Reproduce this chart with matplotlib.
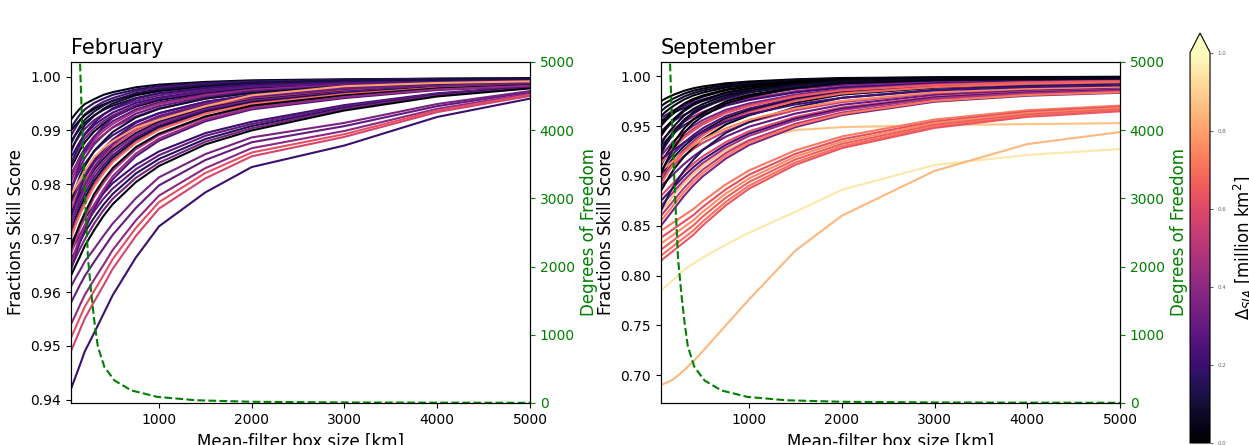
import numpy as np
import matplotlib.pyplot as plt
from matplotlib import cm, colors

box_km = [50, 100, 150, 200, 300, 400, 500, 750, 1000, 1500, 2000, 3000, 4000, 5000]

feb_fss = [
    [0.992, 0.9931, 0.9941, 0.9949, 0.9958, 0.9966, 0.9971, 0.998, 0.9985, 0.999, 0.9993, 0.9995, 0.9996, 0.9997],
    [0.9905, 0.9918, 0.993, 0.9939, 0.9951, 0.9959, 0.9966, 0.9976, 0.9982, 0.9988, 0.9991, 0.9994, 0.9996, 0.9997],
    [0.989, 0.9905, 0.9919, 0.993, 0.9943, 0.9953, 0.996, 0.9973, 0.9979, 0.9986, 0.999, 0.9993, 0.9995, 0.9996],
    [0.988, 0.9892, 0.9904, 0.9914, 0.9928, 0.9938, 0.9946, 0.996, 0.9969, 0.9978, 0.9984, 0.999, 0.9993, 0.9995],
    [0.9865, 0.9879, 0.9892, 0.9903, 0.9919, 0.993, 0.9939, 0.9955, 0.9965, 0.9976, 0.9982, 0.9989, 0.9992, 0.9994],
    [0.985, 0.9865, 0.988, 0.9892, 0.991, 0.9922, 0.9933, 0.9951, 0.9961, 0.9973, 0.9981, 0.9988, 0.9991, 0.9993],
    [0.984, 0.9856, 0.9872, 0.9885, 0.9904, 0.9917, 0.9928, 0.9947, 0.9958, 0.9971, 0.9979, 0.9987, 0.999, 0.9993],
    [0.983, 0.9847, 0.9864, 0.9878, 0.9898, 0.9912, 0.9924, 0.9944, 0.9956, 0.9969, 0.9978, 0.9986, 0.999, 0.9992],
    [0.9815, 0.9834, 0.9852, 0.9867, 0.9889, 0.9904, 0.9917, 0.9939, 0.9952, 0.9967, 0.9976, 0.9985, 0.9989, 0.9992],
    [0.9805, 0.9825, 0.9844, 0.986, 0.9883, 0.9899, 0.9912, 0.9936, 0.9949, 0.9965, 0.9975, 0.9984, 0.9988, 0.9991],
    [0.9795, 0.9811, 0.9826, 0.9838, 0.9861, 0.9877, 0.9891, 0.9916, 0.9932, 0.9953, 0.9965, 0.9977, 0.9986, 0.999],
    [0.9775, 0.9793, 0.9809, 0.9822, 0.9847, 0.9865, 0.9881, 0.9908, 0.9926, 0.9948, 0.9962, 0.9975, 0.9984, 0.9989],
    [0.9765, 0.9784, 0.98, 0.9814, 0.984, 0.9859, 0.9875, 0.9904, 0.9922, 0.9946, 0.996, 0.9974, 0.9984, 0.9988],
    [0.9755, 0.9775, 0.9792, 0.9806, 0.9833, 0.9853, 0.987, 0.99, 0.9919, 0.9944, 0.9958, 0.9973, 0.9983, 0.9988],
    [0.9745, 0.9765, 0.9783, 0.9799, 0.9827, 0.9847, 0.9865, 0.9895, 0.9916, 0.9941, 0.9957, 0.9972, 0.9982, 0.9987],
    [0.9735, 0.9756, 0.9775, 0.9791, 0.982, 0.9841, 0.986, 0.9891, 0.9913, 0.9939, 0.9955, 0.9971, 0.9981, 0.9987],
    [0.9725, 0.9747, 0.9766, 0.9783, 0.9813, 0.9835, 0.9854, 0.9887, 0.9909, 0.9937, 0.9953, 0.997, 0.9981, 0.9986],
    [0.9715, 0.9738, 0.9758, 0.9775, 0.9806, 0.9829, 0.9849, 0.9883, 0.9906, 0.9934, 0.9952, 0.9969, 0.998, 0.9986],
    [0.9705, 0.9729, 0.9749, 0.9767, 0.9799, 0.9823, 0.9844, 0.9879, 0.9903, 0.9932, 0.995, 0.9968, 0.9979, 0.9985],
    [0.969, 0.9706, 0.9721, 0.9737, 0.9761, 0.9783, 0.9802, 0.9836, 0.9861, 0.9895, 0.9916, 0.9947, 0.9969, 0.9981],
    [0.9675, 0.9691, 0.9708, 0.9724, 0.975, 0.9773, 0.9792, 0.9828, 0.9854, 0.989, 0.9912, 0.9945, 0.9968, 0.9981],
    [0.966, 0.9677, 0.9694, 0.9711, 0.9738, 0.9762, 0.9782, 0.982, 0.9847, 0.9884, 0.9908, 0.9942, 0.9966, 0.998],
    [0.9645, 0.9663, 0.9681, 0.9698, 0.9727, 0.9752, 0.9773, 0.9812, 0.984, 0.9879, 0.9904, 0.994, 0.9965, 0.9979],
    [0.963, 0.9649, 0.9667, 0.9686, 0.9715, 0.9741, 0.9763, 0.9804, 0.9834, 0.9874, 0.99, 0.9937, 0.9963, 0.9978],
    [0.967, 0.9696, 0.972, 0.9739, 0.9776, 0.9802, 0.9825, 0.9865, 0.9891, 0.9924, 0.9944, 0.9964, 0.9977, 0.9984],
    [0.986, 0.988, 0.9896, 0.991, 0.9927, 0.994, 0.995, 0.9965, 0.9973, 0.9982, 0.9987, 0.9992, 0.9994, 0.9995],
    [0.979, 0.9811, 0.9832, 0.9849, 0.9874, 0.9891, 0.9906, 0.9931, 0.9945, 0.9962, 0.9973, 0.9983, 0.9987, 0.9991],
    [0.974, 0.9766, 0.9792, 0.9813, 0.9844, 0.9865, 0.9883, 0.9914, 0.9932, 0.9953, 0.9966, 0.9979, 0.9984, 0.9988],
    [0.97, 0.9724, 0.9745, 0.9763, 0.9796, 0.982, 0.9841, 0.9877, 0.9901, 0.9931, 0.9949, 0.9967, 0.9979, 0.9985],
    [0.982, 0.9834, 0.9847, 0.9858, 0.9878, 0.9892, 0.9905, 0.9926, 0.9941, 0.9959, 0.9969, 0.998, 0.9987, 0.9991],
    [0.964, 0.9669, 0.9694, 0.9716, 0.9755, 0.9784, 0.9809, 0.9852, 0.9881, 0.9917, 0.9939, 0.996, 0.9975, 0.9982],
    [0.99, 0.991, 0.992, 0.9928, 0.994, 0.9948, 0.9955, 0.9967, 0.9974, 0.9982, 0.9987, 0.9992, 0.9994, 0.9996],
    [0.9835, 0.9858, 0.9878, 0.9894, 0.9914, 0.9929, 0.9941, 0.9959, 0.9969, 0.9979, 0.9985, 0.999, 0.9993, 0.9994],
    [0.977, 0.9793, 0.9816, 0.9834, 0.9862, 0.988, 0.9897, 0.9924, 0.994, 0.9959, 0.997, 0.9982, 0.9986, 0.999],
    [0.972, 0.9748, 0.9776, 0.9798, 0.9832, 0.9854, 0.9874, 0.9908, 0.9927, 0.995, 0.9964, 0.9978, 0.9983, 0.9987],
    [0.968, 0.9706, 0.9728, 0.9747, 0.9782, 0.9808, 0.983, 0.9869, 0.9894, 0.9926, 0.9946, 0.9965, 0.9978, 0.9984],
    [0.965, 0.9678, 0.9703, 0.9724, 0.9762, 0.979, 0.9815, 0.9857, 0.9885, 0.992, 0.9941, 0.9962, 0.9976, 0.9983],
    [0.9785, 0.9815, 0.9841, 0.9862, 0.9888, 0.9908, 0.9923, 0.9946, 0.9959, 0.9972, 0.9981, 0.9987, 0.999, 0.9993],
    [0.9875, 0.9893, 0.9908, 0.992, 0.9935, 0.9946, 0.9955, 0.9969, 0.9976, 0.9984, 0.9989, 0.9993, 0.9994, 0.9996],
    [0.958, 0.9597, 0.9614, 0.963, 0.9656, 0.9681, 0.9706, 0.9756, 0.9798, 0.9845, 0.9878, 0.9908, 0.9945, 0.9971],
    [0.961, 0.9626, 0.9641, 0.9657, 0.968, 0.9704, 0.9727, 0.9774, 0.9813, 0.9856, 0.9887, 0.9914, 0.9949, 0.9973],
    [0.954, 0.9558, 0.9577, 0.9595, 0.9623, 0.965, 0.9678, 0.9733, 0.9779, 0.983, 0.9867, 0.9899, 0.994, 0.9968],
    [0.9515, 0.9534, 0.9554, 0.9573, 0.9602, 0.9631, 0.9661, 0.9719, 0.9767, 0.9821, 0.9859, 0.9893, 0.9937, 0.9966],
    [0.949, 0.951, 0.9531, 0.9551, 0.9582, 0.9612, 0.9643, 0.9704, 0.9755, 0.9811, 0.9852, 0.9888, 0.9934, 0.9964],
    [0.942, 0.9443, 0.9466, 0.949, 0.9524, 0.9559, 0.9594, 0.9664, 0.9722, 0.9785, 0.9832, 0.9872, 0.9925, 0.9959],
    [0.978, 0.9795, 0.981, 0.9825, 0.985, 0.9867, 0.988, 0.9905, 0.992, 0.9945, 0.9965, 0.9982, 0.9988, 0.9991],
]
feb_delta = [0.05, 0.15, 0.25, 0.1, 0.3, 0.2, 0.35, 0.05, 0.28, 0.45,
             0.22, 0.18, 0.32, 0.6, 0.12, 0.38, 0.25, 0.08, 0.4, 0.2,
             0.3, 0.15, 0.35, 0.02, 0.5, 0.1, 0.3, 0.22, 0.7, 0.4,
             0.25, 0.0, 0.2, 0.1, 0.33, 0.05, 0.42, 0.28, 0.12, 0.3,
             0.35, 0.4, 0.62, 0.58, 0.2, 0.8]

sep_fss = [
    [0.975, 0.9778, 0.98, 0.982, 0.9855, 0.988, 0.9898, 0.993, 0.9948, 0.997, 0.9983, 0.999, 0.9993, 0.9995],
    [0.97, 0.9733, 0.976, 0.9784, 0.9826, 0.9856, 0.9877, 0.9916, 0.9937, 0.9964, 0.9979, 0.9988, 0.9991, 0.9994],
    [0.965, 0.9689, 0.972, 0.9748, 0.9797, 0.9832, 0.9857, 0.9902, 0.9927, 0.9958, 0.9976, 0.9986, 0.999, 0.9993],
    [0.96, 0.9644, 0.968, 0.9712, 0.9768, 0.9808, 0.9836, 0.9888, 0.9916, 0.9952, 0.9972, 0.9984, 0.9988, 0.9992],
    [0.955, 0.9582, 0.9613, 0.964, 0.9685, 0.9721, 0.9753, 0.9811, 0.9847, 0.9897, 0.9928, 0.9955, 0.9969, 0.9975],
    [0.95, 0.9555, 0.96, 0.964, 0.971, 0.976, 0.9795, 0.986, 0.9895, 0.994, 0.9965, 0.998, 0.9985, 0.999],
    [0.945, 0.9489, 0.9527, 0.956, 0.9615, 0.9659, 0.9698, 0.9769, 0.9813, 0.9874, 0.9912, 0.9945, 0.9962, 0.997],
    [0.94, 0.9466, 0.952, 0.9568, 0.9652, 0.9712, 0.9754, 0.9832, 0.9874, 0.9928, 0.9958, 0.9976, 0.9982, 0.9988],
    [0.935, 0.9396, 0.9441, 0.948, 0.9545, 0.9597, 0.9643, 0.9727, 0.9779, 0.9851, 0.9896, 0.9935, 0.9955, 0.9964],
    [0.93, 0.9349, 0.9398, 0.944, 0.951, 0.9566, 0.9615, 0.9706, 0.9762, 0.9839, 0.9888, 0.993, 0.9951, 0.9962],
    [0.925, 0.9333, 0.94, 0.946, 0.9565, 0.964, 0.9693, 0.979, 0.9843, 0.991, 0.9948, 0.997, 0.9978, 0.9985],
    [0.92, 0.9256, 0.9312, 0.936, 0.944, 0.9504, 0.956, 0.9664, 0.9728, 0.9816, 0.9872, 0.992, 0.9944, 0.9956],
    [0.915, 0.921, 0.9269, 0.932, 0.9405, 0.9473, 0.9533, 0.9643, 0.9711, 0.9805, 0.9864, 0.9915, 0.9941, 0.9953],
    [0.91, 0.9199, 0.928, 0.9352, 0.9478, 0.9568, 0.9631, 0.9748, 0.9811, 0.9892, 0.9937, 0.9964, 0.9973, 0.9982],
    [0.905, 0.9117, 0.9183, 0.924, 0.9335, 0.9411, 0.9478, 0.9601, 0.9677, 0.9782, 0.9848, 0.9905, 0.9934, 0.9948],
    [0.9, 0.907, 0.914, 0.92, 0.93, 0.938, 0.945, 0.958, 0.966, 0.977, 0.984, 0.99, 0.993, 0.9945],
    [0.9, 0.904, 0.908, 0.912, 0.92, 0.927, 0.933, 0.945, 0.954, 0.966, 0.974, 0.983, 0.987, 0.989],
    [0.895, 0.9024, 0.9097, 0.916, 0.9265, 0.9349, 0.9423, 0.9559, 0.9643, 0.9759, 0.9832, 0.9895, 0.9927, 0.9942],
    [0.89, 0.8944, 0.8988, 0.9032, 0.912, 0.9197, 0.9263, 0.9395, 0.9494, 0.9626, 0.9714, 0.9813, 0.9857, 0.9879],
    [0.885, 0.8931, 0.9011, 0.908, 0.9195, 0.9287, 0.9368, 0.9517, 0.9609, 0.9736, 0.9816, 0.9885, 0.992, 0.9937],
    [0.88, 0.8848, 0.8896, 0.8944, 0.904, 0.9124, 0.9196, 0.934, 0.9448, 0.9592, 0.9688, 0.9796, 0.9844, 0.9868],
    [0.875, 0.88, 0.885, 0.89, 0.9, 0.9088, 0.9163, 0.9313, 0.9425, 0.9575, 0.9675, 0.9788, 0.9838, 0.9863],
    [0.865, 0.87, 0.876, 0.882, 0.893, 0.902, 0.91, 0.926, 0.936, 0.946, 0.949, 0.951, 0.952, 0.953],
    [0.87, 0.8752, 0.8804, 0.8856, 0.896, 0.9051, 0.9129, 0.9285, 0.9402, 0.9558, 0.9662, 0.9779, 0.9831, 0.9857],
    [0.865, 0.8745, 0.8839, 0.892, 0.9055, 0.9163, 0.9258, 0.9433, 0.9541, 0.969, 0.9784, 0.9865, 0.9906, 0.9926],
    [0.86, 0.8656, 0.8712, 0.8768, 0.888, 0.8978, 0.9062, 0.923, 0.9356, 0.9524, 0.9636, 0.9762, 0.9818, 0.9846],
    [0.845, 0.8481, 0.8512, 0.8543, 0.8605, 0.8667, 0.8745, 0.8915, 0.9055, 0.9256, 0.9396, 0.9566, 0.9659, 0.9706],
    [0.838, 0.8412, 0.8445, 0.8477, 0.8542, 0.8607, 0.8688, 0.8866, 0.9012, 0.9222, 0.9368, 0.9546, 0.9644, 0.9692],
    [0.832, 0.8354, 0.8387, 0.8421, 0.8488, 0.8555, 0.8639, 0.8824, 0.8975, 0.9194, 0.9345, 0.953, 0.963, 0.9681],
    [0.826, 0.8295, 0.833, 0.8364, 0.8434, 0.8504, 0.8591, 0.8782, 0.8939, 0.9165, 0.9321, 0.9513, 0.9617, 0.9669],
    [0.82, 0.8236, 0.8272, 0.8308, 0.838, 0.8452, 0.8542, 0.874, 0.8902, 0.9136, 0.9298, 0.9496, 0.9604, 0.9658],
    [0.815, 0.8187, 0.8224, 0.8261, 0.8335, 0.8409, 0.8502, 0.8705, 0.8872, 0.9112, 0.9279, 0.9482, 0.9593, 0.9649],
    [0.85, 0.856, 0.862, 0.868, 0.88, 0.8905, 0.8995, 0.9175, 0.931, 0.949, 0.961, 0.9745, 0.9805, 0.9835],
    [0.958, 0.9609, 0.9639, 0.9664, 0.9706, 0.974, 0.9769, 0.9824, 0.9857, 0.9903, 0.9933, 0.9958, 0.9971, 0.9977],
    [0.942, 0.9484, 0.9536, 0.9582, 0.9664, 0.9722, 0.9762, 0.9838, 0.9878, 0.993, 0.9959, 0.9977, 0.9983, 0.9988],
    [0.922, 0.9306, 0.9376, 0.9438, 0.9548, 0.9626, 0.968, 0.9782, 0.9836, 0.9906, 0.9945, 0.9969, 0.9977, 0.9984],
    [0.912, 0.9182, 0.9243, 0.9296, 0.9384, 0.9454, 0.9516, 0.963, 0.9701, 0.9798, 0.9859, 0.9912, 0.9938, 0.9952],
    [0.905, 0.9088, 0.9126, 0.9164, 0.924, 0.9307, 0.9364, 0.9478, 0.9563, 0.9677, 0.9753, 0.9839, 0.9877, 0.9896],
    [0.953, 0.9582, 0.9624, 0.9662, 0.9727, 0.9774, 0.9807, 0.9868, 0.9901, 0.9944, 0.9967, 0.9981, 0.9986, 0.9991],
    [0.932, 0.9395, 0.9456, 0.951, 0.9606, 0.9674, 0.9721, 0.981, 0.9857, 0.9918, 0.9952, 0.9973, 0.998, 0.9986],
    [0.902, 0.9128, 0.9216, 0.9294, 0.9432, 0.953, 0.9598, 0.9726, 0.9794, 0.9882, 0.9931, 0.9961, 0.9971, 0.998],
    [0.892, 0.8996, 0.9071, 0.9136, 0.9244, 0.933, 0.9406, 0.9546, 0.9633, 0.9752, 0.9827, 0.9892, 0.9924, 0.9941],
    [0.855, 0.8608, 0.8666, 0.8724, 0.884, 0.8942, 0.9029, 0.9203, 0.9333, 0.9507, 0.9623, 0.9754, 0.9812, 0.984],
    [0.917, 0.9203, 0.9236, 0.927, 0.9336, 0.9394, 0.9444, 0.9544, 0.9618, 0.9718, 0.9784, 0.9859, 0.9892, 0.9909],
    [0.785, 0.789, 0.793, 0.797, 0.806, 0.812, 0.818, 0.831, 0.843, 0.864, 0.886, 0.911, 0.921, 0.927],
    [0.69, 0.692, 0.694, 0.697, 0.705, 0.714, 0.724, 0.75, 0.776, 0.825, 0.86, 0.905, 0.932, 0.944],
]
sep_delta = [0.0, 0.03, 0.08, 0.02, 0.15, 0.05, 0.3, 0.1, 0.45, 0.2,
             0.05, 0.35, 0.5, 0.0, 0.25, 0.1, 0.55, 0.4, 0.3, 0.05,
             0.6, 0.2, 0.87, 0.45, 0.15, 0.5, 0.72, 0.62, 0.76, 0.66,
             0.7, 0.64, 0.35, 0.25, 0.02, 0.12, 0.65, 0.75, 0.0, 0.06,
             0.04, 0.68, 0.72, 0.22, 0.95, 0.85]

# degrees of freedom vs box size (same for both months)
dof_km = [140, 165, 185, 210, 235, 270, 305, 340, 410, 520, 700, 980, 1400, 2000, 3000, 4000, 5000]
dof = [5300, 4300, 3550, 2800, 2100, 1600, 1170, 830, 530, 330, 185, 90, 40, 18, 8, 5, 3]

cmap = plt.get_cmap('magma')
norm = colors.Normalize(vmin=0.0, vmax=1.0)

fig = plt.figure(figsize=(12.49, 4.45), dpi=100)
ax1 = fig.add_axes([0.0568, 0.0944, 0.3675, 0.7663])
ax2 = fig.add_axes([0.5292, 0.0944, 0.3675, 0.7663])
cax = fig.add_axes([0.9528, 0.0045, 0.016, 0.9213])

panels = [(ax1, 'February', feb_fss, feb_delta, (0.9394, 1.0027), np.arange(0.94, 1.001, 0.01)),
          (ax2, 'September', sep_fss, sep_delta, (0.672, 1.0144), np.arange(0.70, 1.001, 0.05))]

for ax, name, fss, delta, ylim, yticks in panels:
    for vals, d in zip(fss, delta):
        ax.plot(box_km, vals, color=cmap(norm(d)), lw=1.5)
    ax.set_xlim(50, 5000)
    ax.set_ylim(*ylim)
    ax.set_xticks([1000, 2000, 3000, 4000, 5000])
    ax.set_yticks(yticks)
    ax.set_yticklabels(['%.2f' % t for t in yticks])
    ax.tick_params(labelsize=10)
    ax.set_title(name, loc='left', fontsize=15)
    ax.set_xlabel('Mean-filter box size [km]', fontsize=12)
    ax.set_ylabel('Fractions Skill Score', fontsize=12)

    tw = ax.twinx()
    tw.plot(dof_km, dof, color='green', ls='--', lw=1.5)
    tw.set_ylim(0, 5000)
    tw.set_yticks([0, 1000, 2000, 3000, 4000, 5000])
    tw.tick_params(axis='y', colors='green', labelsize=10)
    tw.set_ylabel('Degrees of Freedom', color='green', fontsize=12)

sm = cm.ScalarMappable(norm=norm, cmap=cmap)
cb = fig.colorbar(sm, cax=cax, extend='max')
cb.set_ticks([0.0, 0.2, 0.4, 0.6, 0.8, 1.0])
cb.ax.tick_params(labelsize=4, colors='0.4', length=2)
cb.set_label(r'$\Delta_{SIA}$ [million km$^2$]', fontsize=12)

plt.savefig('out.png', dpi=100)
